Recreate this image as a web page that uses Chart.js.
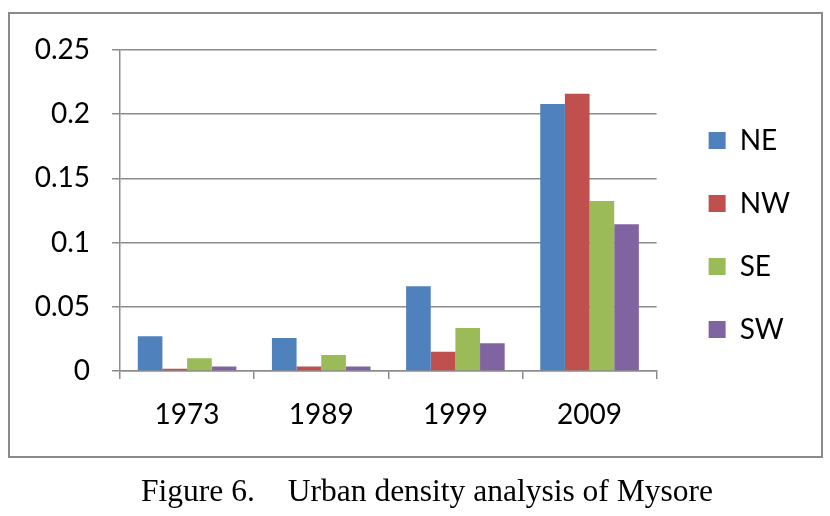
<!DOCTYPE html>
<html><head><meta charset="utf-8">
<script src="https://cdn.jsdelivr.net/npm/chart.js@4/dist/chart.umd.min.js"></script>
<style>
html,body{margin:0;padding:0;background:#fff;width:830px;height:516px;overflow:hidden;position:relative;}
#frame{position:absolute;left:8px;top:12px;width:811px;height:442px;border:2px solid #8a8a8a;}
#c{position:absolute;left:0;top:0;}
#cap{position:absolute;left:12px;top:473px;width:830px;text-align:center;font-family:"Liberation Serif","Times New Roman",serif;font-size:31.5px;line-height:36px;color:#000;white-space:nowrap;}
</style></head><body>
<div id="frame"></div>
<canvas id="c" width="830" height="516"></canvas>
<div id="cap">Figure 6.<span style="display:inline-block;width:33px"></span>Urban density analysis of Mysore</div>
<script>
const categories = ["1973", "1989", "1999", "2009"];
const seriesNames = ["NE", "NW", "SE", "SW"];
const NE = [0.027, 0.0257, 0.066, 0.208];
const NW = [0.0018, 0.0035, 0.015, 0.216];
const SE = [0.0099, 0.0125, 0.0335, 0.1324];
const SW = [0.0036, 0.0036, 0.0216, 0.1142];
const yTicks = [0, 0.05, 0.1, 0.15, 0.2, 0.25];
const colors = ["#4F81BD", "#C0504D", "#9BBB59", "#8064A2"];
const values = [NE, NW, SE, SW];

const grid = "#8c8c8c";
const font = {family: "Lato, 'Open Sans', sans-serif", size: 28};

const legendShift = {
  id: 'legendShift',
  afterLayout(chart) {
    const lg = chart.legend;
    if (lg) { lg.left += 17; lg.right += 17; lg.top -= 48; lg.bottom -= 48; }
  }
};

new Chart(document.getElementById('c'), {
  type: 'bar',
  data: {
    labels: categories,
    datasets: seriesNames.map((n, i) => ({
      label: n, data: values[i], backgroundColor: colors[i],
      borderWidth: 0, categoryPercentage: 0.735, barPercentage: 1
    }))
  },
  plugins: [legendShift],
  options: {
    responsive: false, animation: false,
    layout: {padding: {left: 0, top: 50, right: 47, bottom: 0}},
    plugins: {
      legend: {
        position: 'right',
        labels: {boxWidth: 17, boxHeight: 17, padding: 35, color: '#000', font: font}
      },
      tooltip: {enabled: false}
    },
    scales: {
      x: {
        grid: {offset: true, drawOnChartArea: false, drawTicks: true, tickLength: 8, color: grid, lineWidth: 1.5},
        border: {display: true, color: grid, width: 1.5},
        ticks: {color: '#000', font: font, padding: 19},
        afterFit: s => { s.height = 145; }
      },
      y: {
        min: 0, max: 0.25,
        afterBuildTicks: s => { s.ticks = yTicks.map(v => ({value: v})); },
        grid: {color: grid, lineWidth: 1.5, tickLength: 8},
        border: {display: true, color: grid, width: 1.5},
        ticks: {color: '#000', font: font, padding: 22, callback: v => String(+v.toFixed(2))},
        afterFit: s => { s.width = 120; }
      }
    }
  }
});
</script>
</body></html>
